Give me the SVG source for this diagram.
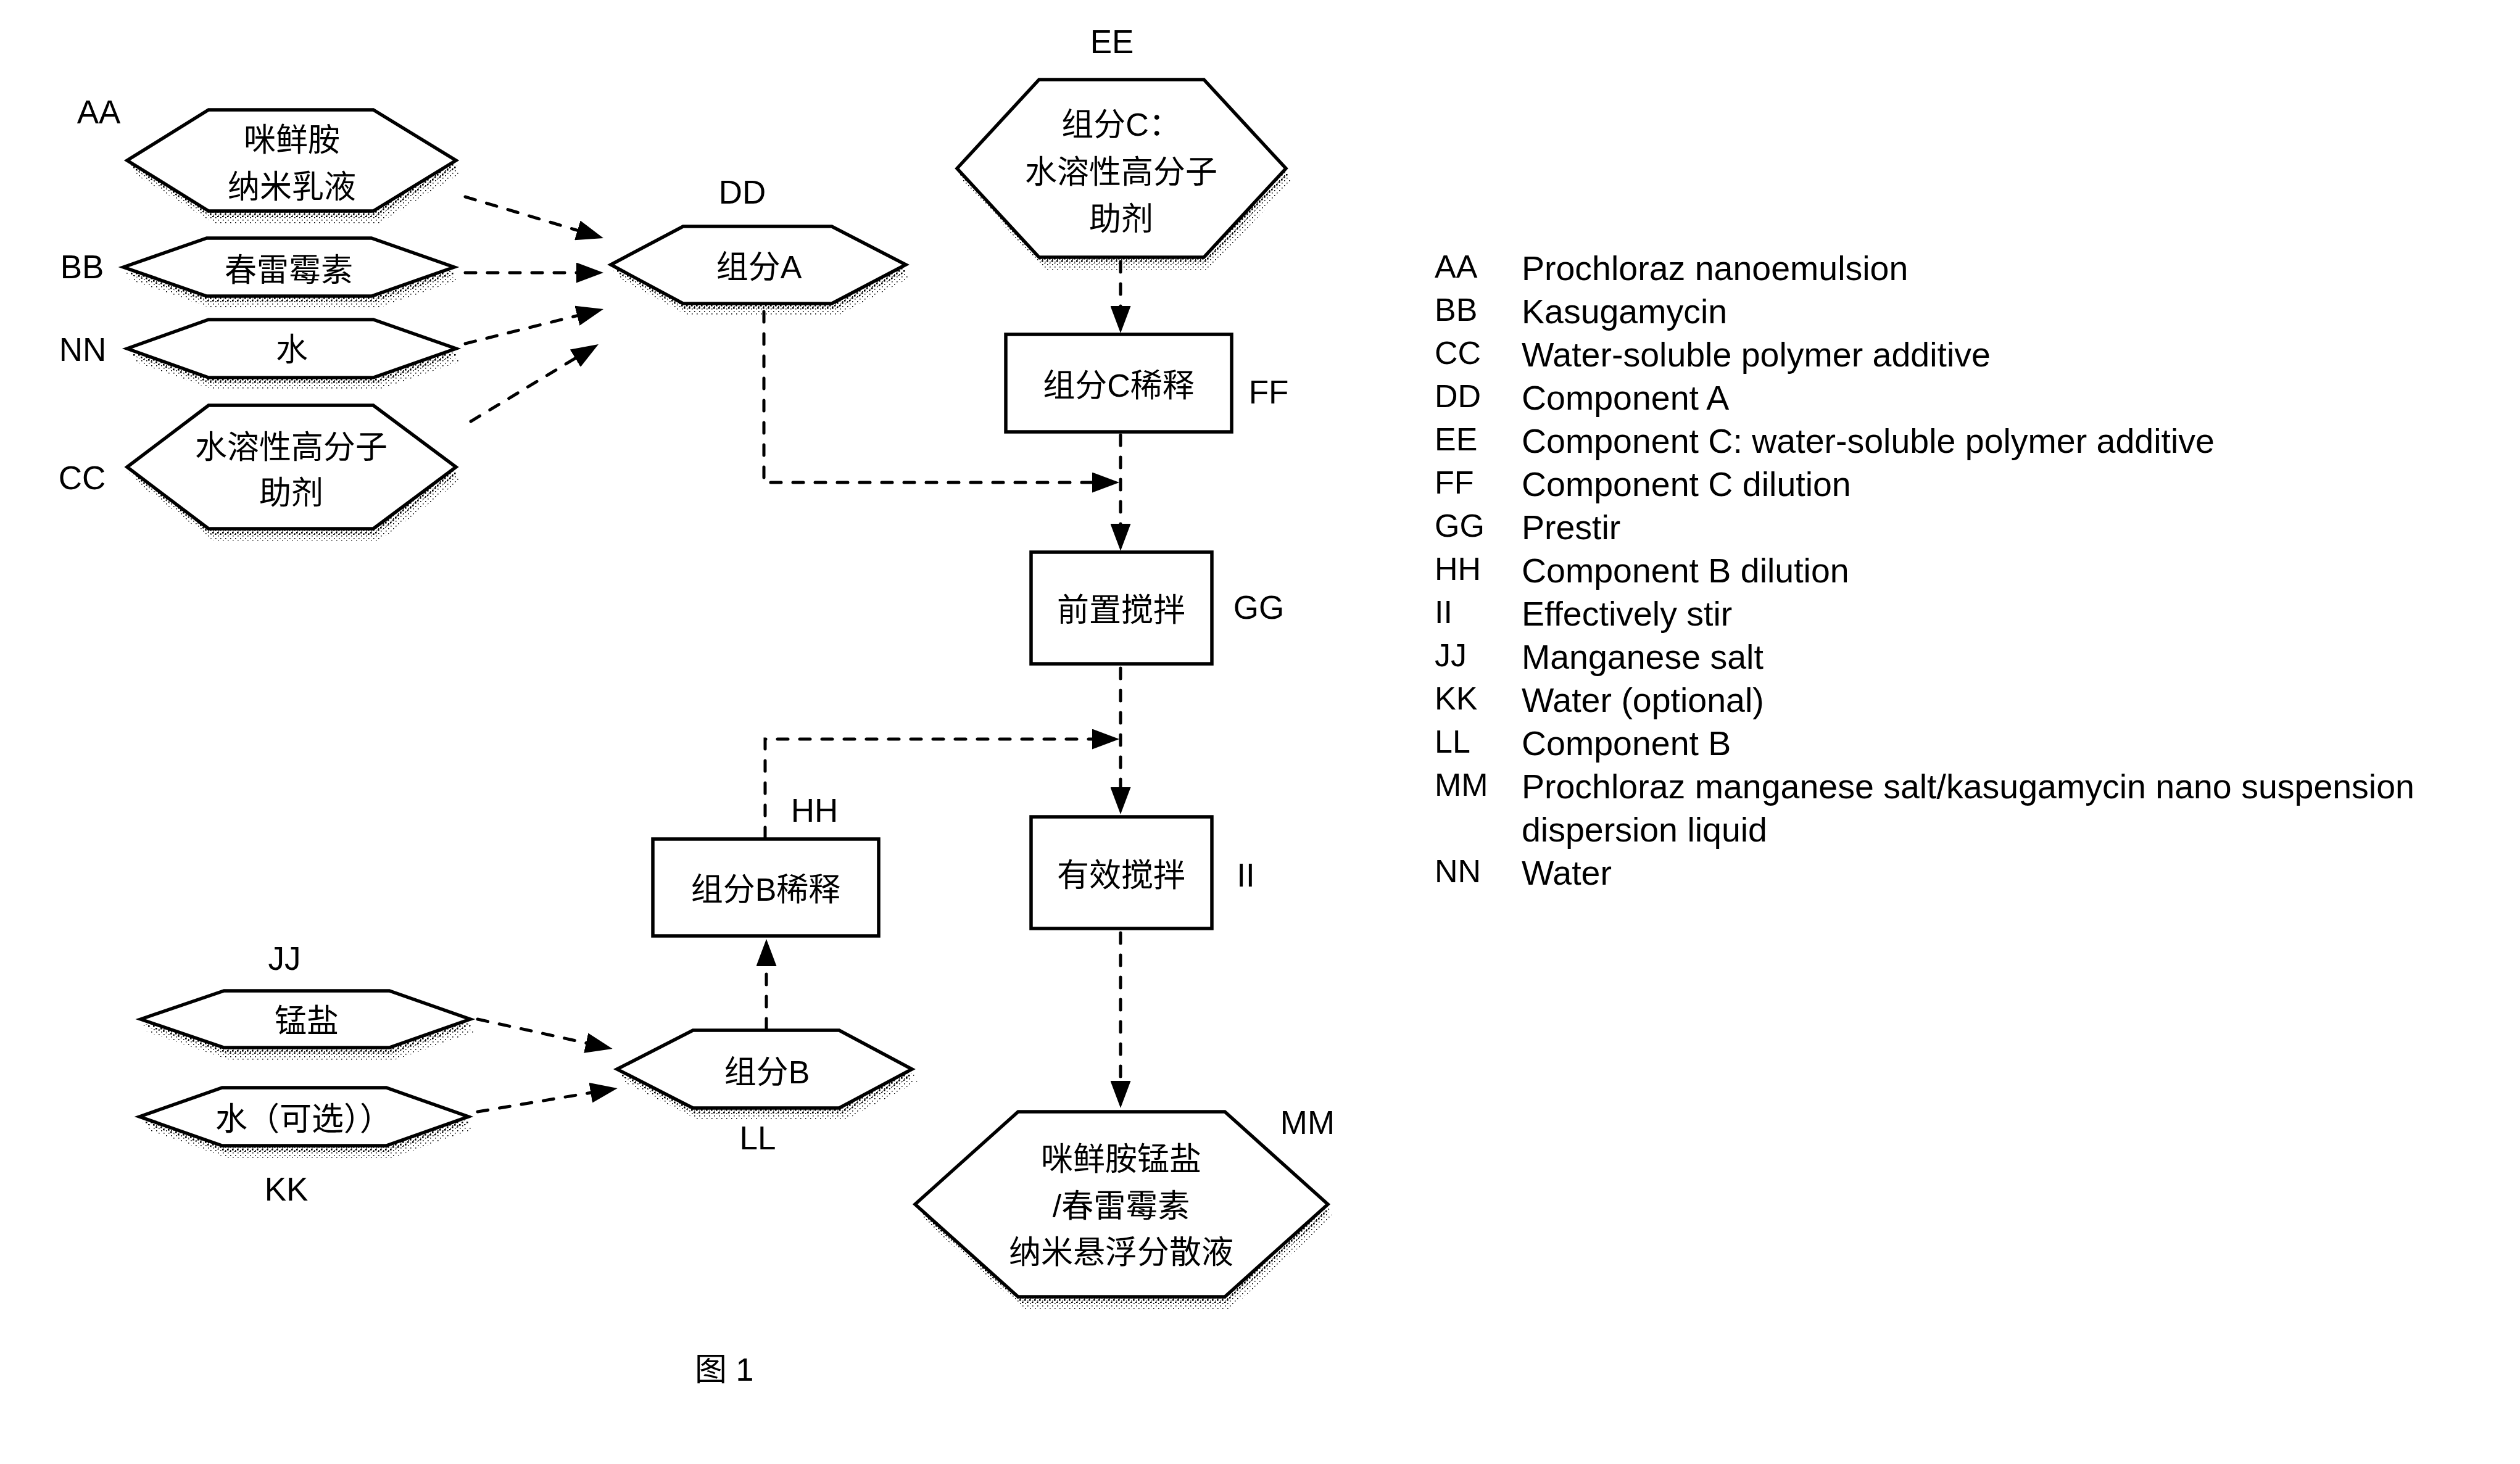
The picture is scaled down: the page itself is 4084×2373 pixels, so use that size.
<svg xmlns="http://www.w3.org/2000/svg" width="4084" height="2373" viewBox="0 0 4084 2373">
<defs>
<style>
.bg{fill:#fff}
.hex{fill:#fff;stroke:#000;stroke-width:5.5;stroke-linejoin:miter}
.box{fill:#fff;stroke:#000;stroke-width:5.5}
.sh1{fill:url(#dotsLight)}
.sh2{fill:url(#dotsDense)}
.cjk{font-family:"Liberation Sans","Noto Sans CJK SC",sans-serif;font-size:52px;text-anchor:middle;fill:#000}
.lbl{font-family:"Liberation Sans","Noto Sans CJK SC",sans-serif;font-size:53px;text-anchor:middle;fill:#000}
.code{font-family:"Liberation Sans",sans-serif;font-size:52px;fill:#000}
.desc{font-family:"Liberation Sans",sans-serif;font-size:55.5px;fill:#000}
.conn{fill:none;stroke:#000;stroke-width:5;stroke-dasharray:17 19;stroke-linecap:round;marker-end:url(#arr)}
</style>
<pattern id="dotsDense" width="8" height="8" patternUnits="userSpaceOnUse"><rect width="2.6" height="2.6" fill="#000"/><rect x="4" y="4" width="2.6" height="2.6" fill="#000"/></pattern>
<pattern id="dotsLight" width="8" height="8" patternUnits="userSpaceOnUse"><rect width="1.6" height="1.6" fill="#000"/><rect x="4" y="4" width="1.6" height="1.6" fill="#000"/></pattern>
<marker id="arr" viewBox="0 0 44 33" refX="34" refY="16.5" markerWidth="44" markerHeight="33" markerUnits="userSpaceOnUse" orient="auto"><path d="M0,0 L44,16.5 L0,33 Z" fill="#000"/></marker>
</defs>
<rect class="bg" x="0" y="0" width="4084" height="2373"/>

<g id="node-AA">
<polygon class="sh1" transform="translate(9,20)" points="206,260 338,178 605,178 739,260 605,342 338,342"/>
<polygon class="sh2" transform="translate(4,10)" points="206,260 338,178 605,178 739,260 605,342 338,342"/>
<polygon class="hex" points="206,260 338,178 605,178 739,260 605,342 338,342"/>
<text class="cjk" x="473" y="245">咪鲜胺</text>
<text class="cjk" x="473" y="321">纳米乳液</text>
<text class="lbl" x="160" y="200">AA</text>
</g>

<g id="node-BB">
<polygon class="sh1" transform="translate(9,20)" points="200,433 335,386 602,386 736,433 602,480 335,480"/>
<polygon class="sh2" transform="translate(4,10)" points="200,433 335,386 602,386 736,433 602,480 335,480"/>
<polygon class="hex" points="200,433 335,386 602,386 736,433 602,480 335,480"/>
<text class="cjk" x="468" y="456">春雷霉素</text>
<text class="lbl" x="133" y="451">BB</text>
</g>

<g id="node-NN">
<polygon class="sh1" transform="translate(9,20)" points="206,565 338,518 605,518 739,565 605,612 338,612"/>
<polygon class="sh2" transform="translate(4,10)" points="206,565 338,518 605,518 739,565 605,612 338,612"/>
<polygon class="hex" points="206,565 338,518 605,518 739,565 605,612 338,612"/>
<text class="cjk" x="473" y="585">水</text>
<text class="lbl" x="134" y="585">NN</text>
</g>

<g id="node-CC">
<polygon class="sh1" transform="translate(9,20)" points="206,757 338,657 605,657 739,757 605,857 338,857"/>
<polygon class="sh2" transform="translate(4,10)" points="206,757 338,657 605,657 739,757 605,857 338,857"/>
<polygon class="hex" points="206,757 338,657 605,657 739,757 605,857 338,857"/>
<text class="cjk" x="472" y="743">水溶性高分子</text>
<text class="cjk" x="472" y="817">助剂</text>
<text class="lbl" x="133" y="793">CC</text>
</g>

<g id="node-DD">
<polygon class="sh1" transform="translate(9,20)" points="990,429 1107,367 1348,367 1468,429 1348,492 1107,492"/>
<polygon class="sh2" transform="translate(4,10)" points="990,429 1107,367 1348,367 1468,429 1348,492 1107,492"/>
<polygon class="hex" points="990,429 1107,367 1348,367 1468,429 1348,492 1107,492"/>
<text class="cjk" x="1230" y="451">组分A</text>
<text class="lbl" x="1203" y="330">DD</text>
</g>

<g id="node-EE">
<polygon class="sh1" transform="translate(9,20)" points="1551,273 1684,129 1951,129 2084,273 1951,417 1684,417"/>
<polygon class="sh2" transform="translate(4,10)" points="1551,273 1684,129 1951,129 2084,273 1951,417 1684,417"/>
<polygon class="hex" points="1551,273 1684,129 1951,129 2084,273 1951,417 1684,417"/>
<text class="cjk" x="1817" y="220">组分C：</text>
<text class="cjk" x="1817" y="297">水溶性高分子</text>
<text class="cjk" x="1817" y="373">助剂</text>
<text class="lbl" x="1802" y="86">EE</text>
</g>

<g id="node-FF">
<rect class="box" x="1630" y="542" width="366" height="158"/>
<text class="cjk" x="1813" y="643">组分C稀释</text>
<text class="lbl" x="2056" y="654">FF</text>
</g>

<g id="node-GG">
<rect class="box" x="1671" y="895" width="293" height="181"/>
<text class="cjk" x="1817" y="1007">前置搅拌</text>
<text class="lbl" x="2040" y="1003">GG</text>
</g>

<g id="node-II">
<rect class="box" x="1671" y="1324" width="293" height="181"/>
<text class="cjk" x="1817" y="1437">有效搅拌</text>
<text class="lbl" x="2019" y="1437">II</text>
</g>

<g id="node-HH">
<rect class="box" x="1058" y="1360" width="366" height="157"/>
<text class="cjk" x="1241" y="1460">组分B稀释</text>
<text class="lbl" x="1320" y="1332">HH</text>
</g>

<g id="node-JJ">
<polygon class="sh1" transform="translate(9,20)" points="228,1652 363,1606 631,1606 762,1652 631,1698 363,1698"/>
<polygon class="sh2" transform="translate(4,10)" points="228,1652 363,1606 631,1606 762,1652 631,1698 363,1698"/>
<polygon class="hex" points="228,1652 363,1606 631,1606 762,1652 631,1698 363,1698"/>
<text class="cjk" x="497" y="1673">锰盐</text>
<text class="lbl" x="461" y="1572">JJ</text>
</g>

<g id="node-KK">
<polygon class="sh1" transform="translate(9,20)" points="226,1810 360,1763 626,1763 759,1810 626,1857 360,1857"/>
<polygon class="sh2" transform="translate(4,10)" points="226,1810 360,1763 626,1763 759,1810 626,1857 360,1857"/>
<polygon class="hex" points="226,1810 360,1763 626,1763 759,1810 626,1857 360,1857"/>
<text class="cjk" x="492" y="1832">水（可选））</text>
<text class="lbl" x="464" y="1946">KK</text>
</g>

<g id="node-LL">
<polygon class="sh1" transform="translate(9,20)" points="1000,1733 1123,1670 1360,1670 1478,1733 1360,1796 1123,1796"/>
<polygon class="sh2" transform="translate(4,10)" points="1000,1733 1123,1670 1360,1670 1478,1733 1360,1796 1123,1796"/>
<polygon class="hex" points="1000,1733 1123,1670 1360,1670 1478,1733 1360,1796 1123,1796"/>
<text class="cjk" x="1243" y="1756">组分B</text>
<text class="lbl" x="1228" y="1863">LL</text>
</g>

<g id="node-MM">
<polygon class="sh1" transform="translate(9,20)" points="1483,1952 1650,1802 1985,1802 2152,1952 1985,2102 1650,2102"/>
<polygon class="sh2" transform="translate(4,10)" points="1483,1952 1650,1802 1985,1802 2152,1952 1985,2102 1650,2102"/>
<polygon class="hex" points="1483,1952 1650,1802 1985,1802 2152,1952 1985,2102 1650,2102"/>
<text class="cjk" x="1817" y="1897">咪鲜胺锰盐</text>
<text class="cjk" x="1817" y="1973">/春雷霉素</text>
<text class="cjk" x="1817" y="2048">纳米悬浮分散液</text>
<text class="lbl" x="2119" y="1838">MM</text>
</g>

<g id="connectors">
<path class="conn" d="M754,319 L968.4,383.1"/>
<path class="conn" d="M754,442 L968,442"/>
<path class="conn" d="M754,557 L968.3,503.4"/>
<path class="conn" d="M763,683 L961.4,563.2"/>
<path class="conn" d="M1238,505 V782 H1804"/>
<path class="conn" d="M1816,424 V530"/>
<path class="conn" d="M1816,705 V883"/>
<path class="conn" d="M1816,1083 V1310"/>
<path class="conn" d="M1240,1358 V1198 H1804"/>
<path class="conn" d="M1816,1512 V1786"/>
<path class="conn" d="M1242,1668 V1532"/>
<path class="conn" d="M774,1652 L982.9,1697.8"/>
<path class="conn" d="M774,1802 L990.8,1765.6"/>
</g>

<g id="legend">
<text class="code" x="2325" y="450">AA</text><text class="desc" x="2466" y="454">Prochloraz nanoemulsion</text>
<text class="code" x="2325" y="520">BB</text><text class="desc" x="2466" y="524">Kasugamycin</text>
<text class="code" x="2325" y="590">CC</text><text class="desc" x="2466" y="594">Water-soluble polymer additive</text>
<text class="code" x="2325" y="660">DD</text><text class="desc" x="2466" y="664">Component A</text>
<text class="code" x="2325" y="730">EE</text><text class="desc" x="2466" y="734">Component C: water-soluble polymer additive</text>
<text class="code" x="2325" y="800">FF</text><text class="desc" x="2466" y="804">Component C dilution</text>
<text class="code" x="2325" y="870">GG</text><text class="desc" x="2466" y="874">Prestir</text>
<text class="code" x="2325" y="940">HH</text><text class="desc" x="2466" y="944">Component B dilution</text>
<text class="code" x="2325" y="1010">II</text><text class="desc" x="2466" y="1014">Effectively stir</text>
<text class="code" x="2325" y="1080">JJ</text><text class="desc" x="2466" y="1084">Manganese salt</text>
<text class="code" x="2325" y="1150">KK</text><text class="desc" x="2466" y="1154">Water (optional)</text>
<text class="code" x="2325" y="1220">LL</text><text class="desc" x="2466" y="1224">Component B</text>
<text class="code" x="2325" y="1290">MM</text><text class="desc" x="2466" y="1294">Prochloraz manganese salt/kasugamycin nano suspension</text>
<text class="desc" x="2466" y="1364">dispersion liquid</text>
<text class="code" x="2325" y="1430">NN</text><text class="desc" x="2466" y="1434">Water</text>
</g>

<text class="cjk" x="1126" y="2238" style="text-anchor:start">图 1</text>
</svg>
